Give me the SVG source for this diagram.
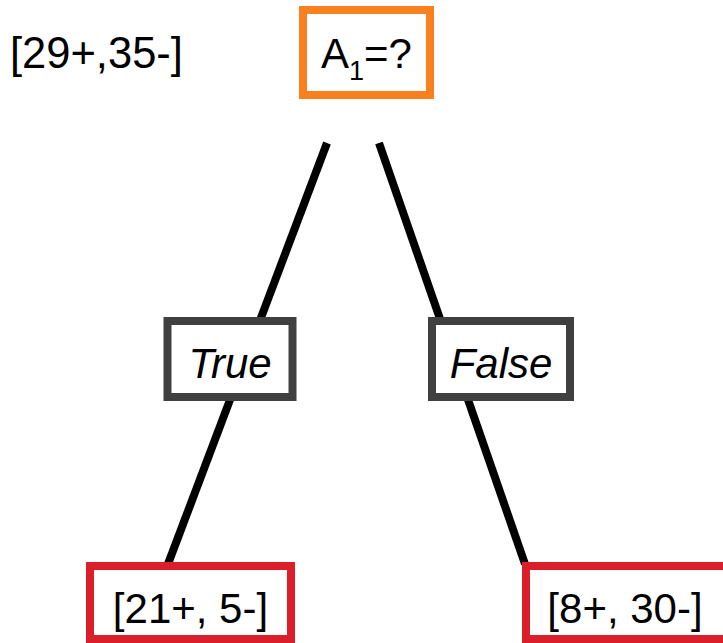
<svg xmlns="http://www.w3.org/2000/svg" width="723" height="643" viewBox="0 0 723 643">
  <style>
    text { font-family: "Liberation Sans", Arial, sans-serif; font-size: 42px; fill: #000; }
    .lbl { text-anchor: middle; }
    .it { font-style: italic; }
    .big { font-size: 43.5px; }
    .sub { font-size: 27px; }
    .box { fill: #fff; stroke-width: 8; }
    .root { stroke: #F8801E; }
    .edge { stroke: #404040; }
    .leaf { stroke: #DA1F2B; }
    .conn line { stroke: #000; stroke-width: 8; }
  </style>
  <rect width="723" height="643" fill="#fff"/>
  <g id="connectors" class="conn">
    <line x1="327" y1="143" x2="168" y2="564"/>
    <line x1="379" y1="143" x2="525" y2="564"/>
  </g>
  <g id="root-count">
    <text class="big" x="10" y="68">[29+,35-]</text>
  </g>
  <g id="root">
    <rect class="box root" x="303" y="10" width="127" height="85"/>
    <text class="lbl" x="366.5" y="68">A<tspan class="sub" dy="12">1</tspan><tspan dy="-12">=?</tspan></text>
  </g>
  <g id="true">
    <rect class="box edge" x="167.5" y="321" width="125" height="76"/>
    <text class="lbl it" x="230" y="378">True</text>
  </g>
  <g id="false">
    <rect class="box edge" x="432" y="321" width="138" height="76"/>
    <text class="lbl it" x="501" y="378">False</text>
  </g>
  <g id="leaf-true">
    <rect class="box leaf" x="90" y="566" width="201" height="73"/>
    <text class="lbl" x="190.5" y="623">[21+, 5-]</text>
  </g>
  <g id="leaf-false">
    <rect class="box leaf" x="526" y="566" width="210" height="73"/>
    <text class="lbl" x="625" y="623">[8+, 30-]</text>
  </g>
</svg>
